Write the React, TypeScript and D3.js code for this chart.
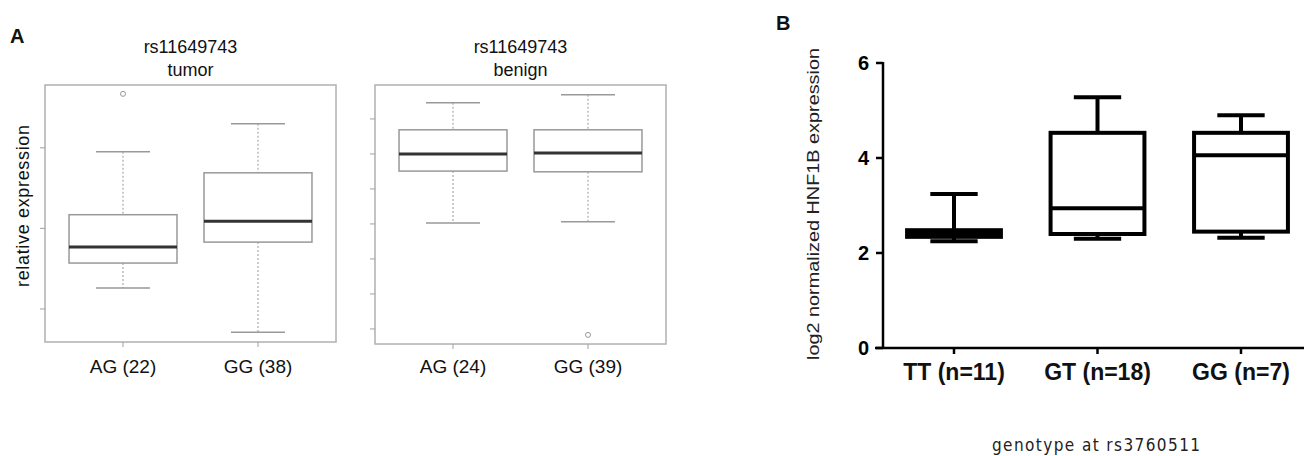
import React from "react";
import * as d3 from "d3";

// Panel A (tumor)
const tumorGroups = ["AG (22)", "GG (38)"];
const tumorLowWhisker = [1.26, 0.71];
const tumorQ1 = [1.57, 1.83];
const tumorMedian = [1.77, 2.09];
const tumorQ3 = [2.17, 2.69];
const tumorHighWhisker = [2.95, 3.3];
const tumorOutliers = [[3.67], []];
const tumorTicks = [1, 2, 3];

// Panel A (benign)
const benignGroups = ["AG (24)", "GG (39)"];
const benignLowWhisker = [4.03, 4.06];
const benignQ1 = [5.51, 5.49];
const benignMedian = [6.0, 6.03];
const benignQ3 = [6.69, 6.69];
const benignHighWhisker = [7.46, 7.69];
const benignOutliers = [[], [0.83]];
const benignTicks = [1, 2, 3, 4, 5, 6, 7];

// Panel B
const bGroups = ["TT (n=11)", "GT (n=18)", "GG (n=7)"];
const bMin = [2.25, 2.3, 2.32];
const bQ1 = [2.34, 2.4, 2.45];
const bMedian = [2.4, 2.94, 4.06];
const bQ3 = [2.48, 4.53, 4.53];
const bMax = [3.24, 5.28, 4.9];
const bTicks = [0, 2, 4, 6];

const FONT = "Liberation Sans, Arial, sans-serif";

type RPanelProps = {
  left: number;
  right: number;
  top: number;
  bottom: number;
  domain: [number, number];
  ticks: number[];
  groups: string[];
  lo: number[];
  q1: number[];
  med: number[];
  q3: number[];
  hi: number[];
  outliers: number[][];
  title2: string;
};

function RPanel(p: RPanelProps) {
  const x = d3.scaleLinear().domain([0.422, 2.578]).range([p.left, p.right]);
  const y = d3.scaleLinear().domain(p.domain).range([p.bottom, p.top]);
  const boxW = x(1.4) - x(1);
  const capW = x(1.2) - x(1);
  const cx = (p.left + p.right) / 2;
  return (
    <g>
      <text x={cx} y={53} textAnchor="middle" fontFamily={FONT} fontSize={18} fill="#111">rs11649743</text>
      <text x={cx} y={76} textAnchor="middle" fontFamily={FONT} fontSize={18} fill="#111">{p.title2}</text>
      <rect x={p.left} y={p.top} width={p.right - p.left} height={p.bottom - p.top} fill="none" stroke="#b0b0b0" strokeWidth={1.5} />
      {p.ticks.map((t) => (
        <line key={t} x1={p.left - 5} x2={p.left} y1={y(t)} y2={y(t)} stroke="#a0a0a0" strokeWidth={1} />
      ))}
      {p.groups.map((g, i) => {
        const c = x(i + 1);
        return (
          <g key={g}>
            <line x1={c} x2={c} y1={p.bottom} y2={p.bottom + 5} stroke="#a0a0a0" strokeWidth={1} />
            <text x={c} y={373} textAnchor="middle" fontFamily={FONT} fontSize={19} fill="#111">{g}</text>
            <line x1={c} x2={c} y1={y(p.hi[i])} y2={y(p.q3[i])} stroke="#aaa" strokeWidth={1.2} strokeDasharray="2,2" />
            <line x1={c} x2={c} y1={y(p.q1[i])} y2={y(p.lo[i])} stroke="#aaa" strokeWidth={1.2} strokeDasharray="2,2" />
            <line x1={c - capW} x2={c + capW} y1={y(p.hi[i])} y2={y(p.hi[i])} stroke="#999" strokeWidth={1.5} />
            <line x1={c - capW} x2={c + capW} y1={y(p.lo[i])} y2={y(p.lo[i])} stroke="#999" strokeWidth={1.5} />
            <rect x={c - boxW} y={y(p.q3[i])} width={2 * boxW} height={y(p.q1[i]) - y(p.q3[i])} fill="#fff" stroke="#999" strokeWidth={1.5} />
            <line x1={c - boxW} x2={c + boxW} y1={y(p.med[i])} y2={y(p.med[i])} stroke="#333" strokeWidth={3} />
            {p.outliers[i].map((o, j) => (
              <circle key={j} cx={c} cy={y(o)} r={2.5} fill="none" stroke="#999" strokeWidth={1} />
            ))}
          </g>
        );
      })}
    </g>
  );
}

export default function App() {
  const xB = d3.scaleLinear().domain([1, 3]).range([954, 1241]);
  const yB = d3.scaleLinear().domain([0, 6]).range([348, 63]);
  const bw = (xB(2) - xB(1)) * 0.327;
  const cw = (xB(2) - xB(1)) * 0.165;
  const sw = 4;
  return (
    <svg width={1304} height={456} style={{ position: "absolute", left: 0, top: 0, background: "#fff" }}>
      <rect width={1304} height={456} fill="#fff" />
      <text x={10} y={43} fontFamily={FONT} fontSize={20} fontWeight="bold" fill="#111">A</text>
      <text transform="translate(29,206) rotate(-90)" textAnchor="middle" fontFamily={FONT} fontSize={18} fill="#111" textLength={162} lengthAdjust="spacing">relative expression</text>
      <RPanel left={45} right={336} top={85} bottom={342} domain={[0.59, 3.78]} ticks={tumorTicks}
        groups={tumorGroups} lo={tumorLowWhisker} q1={tumorQ1} med={tumorMedian} q3={tumorQ3} hi={tumorHighWhisker}
        outliers={tumorOutliers} title2="tumor" />
      <RPanel left={375} right={666} top={85} bottom={344} domain={[0.57, 7.97]} ticks={benignTicks}
        groups={benignGroups} lo={benignLowWhisker} q1={benignQ1} med={benignMedian} q3={benignQ3} hi={benignHighWhisker}
        outliers={benignOutliers} title2="benign" />

      {/* Panel B */}
      <text x={776} y={30} fontFamily={FONT} fontSize={20} fontWeight="bold" fill="#111">B</text>
      <text transform="translate(819,204) rotate(-90)" textAnchor="middle" fontFamily={FONT} fontSize={17} fill="#222" textLength={312} lengthAdjust="spacingAndGlyphs">log2 normalized HNF1B expression</text>
      <line x1={883} x2={883} y1={yB(6) - 1} y2={yB(0)} stroke="#000" strokeWidth={2.5} />
      <line x1={875} x2={1304} y1={yB(0)} y2={yB(0)} stroke="#000" strokeWidth={2.5} />
      {bTicks.map((t) => (
        <g key={t}>
          <line x1={876} x2={883} y1={yB(t)} y2={yB(t)} stroke="#000" strokeWidth={2.5} />
          <text x={869} y={yB(t) + 7} textAnchor="end" fontFamily={FONT} fontSize={20} fontWeight="bold" fill="#000">{t}</text>
        </g>
      ))}
      {bGroups.map((g, i) => {
        const c = xB(i + 1);
        return (
          <g key={g}>
            <line x1={c} x2={c} y1={yB(0)} y2={yB(0) + 6} stroke="#000" strokeWidth={2.5} />
            <text x={c} y={380} textAnchor="middle" fontFamily={FONT} fontSize={23} fontWeight="bold" fill="#111">{g}</text>
            <line x1={c} x2={c} y1={yB(bMax[i])} y2={yB(bMin[i])} stroke="#000" strokeWidth={sw} />
            <line x1={c - cw} x2={c + cw} y1={yB(bMax[i])} y2={yB(bMax[i])} stroke="#000" strokeWidth={sw} />
            <line x1={c - cw} x2={c + cw} y1={yB(bMin[i])} y2={yB(bMin[i])} stroke="#000" strokeWidth={sw} />
            <rect x={c - bw} y={yB(bQ3[i])} width={2 * bw} height={yB(bQ1[i]) - yB(bQ3[i])} fill="#fff" stroke="#000" strokeWidth={sw} />
            <line x1={c - bw} x2={c + bw} y1={yB(bMedian[i])} y2={yB(bMedian[i])} stroke="#000" strokeWidth={sw} />
          </g>
        );
      })}
      <text x={992} y={451} fontFamily="DejaVu Sans Condensed, DejaVu Sans, sans-serif" fontSize={17} fill="#222" textLength={208} lengthAdjust="spacing">genotype at rs3760511</text>
    </svg>
  );
}
